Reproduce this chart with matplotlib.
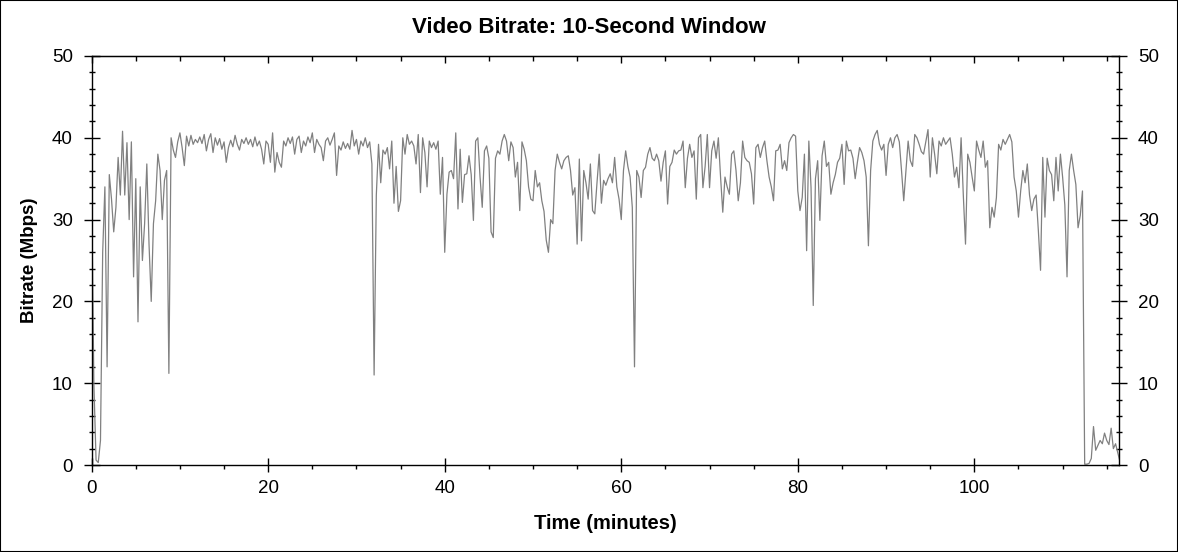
import matplotlib
matplotlib.use("Agg")
import matplotlib.pyplot as plt
from matplotlib.ticker import MultipleLocator, NullFormatter
from matplotlib.patches import Rectangle
import numpy as np

plt.rcParams['font.family'] = ['Liberation Sans', 'DejaVu Sans']

# one value every 15 seconds (0.25 min)
step_min = 0.25
bitrate_mbps = [
    # 0 - 5 min
    33, 10, 0.6, 0.3, 3, 26, 34, 12, 35.5, 32.5, 28.5, 31.5, 37.6, 33, 40.8, 33, 39.4, 30, 39.5, 23,
    # 5 - 10
    35, 17.5, 34, 25, 29.5, 36.8, 27, 20, 29.5, 32.3, 38, 36, 30, 34.8, 36, 11.2, 40, 38.5, 37.6, 39.5,
    # 10 - 15
    40.6, 38.8, 36.6, 40.2, 39.0, 40.3, 39.2, 39.8, 39.4, 40.1, 39.3, 40.4, 38.4, 39.8, 40.5, 38.2, 40.0, 39.1, 39.9, 38.6,
    # 15 - 20
    39.5, 37.0, 38.8, 39.7, 38.9, 40.3, 39.2, 38.5, 39.8, 39.3, 40.0, 39.2, 39.8, 38.9, 40.1, 39.0, 39.6, 38.6, 36.8, 39.6,
    # 20 - 25
    39.2, 37.0, 40.6, 35.8, 38.2, 37.0, 36.4, 39.6, 39.0, 40.0, 39.3, 40.1, 38.0, 39.8, 40.2, 38.2, 39.6, 39.0, 40.1, 39.4,
    # 25 - 30
    40.6, 38.2, 39.8, 39.2, 38.8, 37.2, 39.6, 40.0, 39.1, 39.8, 40.6, 35.4, 39.0, 38.5, 39.5, 38.7, 39.3, 38.6, 40.9, 39.0,
    # 30 - 35
    39.8, 38.0, 39.6, 39.0, 40.0, 38.8, 39.5, 36.8, 11.0, 33, 39.2, 34.5, 38.5, 38.0, 38.8, 36.2, 39.6, 32.0, 36.5, 31.0,
    # 35 - 40
    32.3, 40.0, 38.0, 40.4, 39.2, 39.6, 39.0, 36.8, 40.4, 33.3, 40.0, 38.2, 34.0, 39.6, 38.8, 39.4, 38.6, 39.6, 33.1, 37.6,
    # 40 - 45
    26, 33.1, 35.8, 36, 35, 40.6, 31.3, 38.6, 32.1, 35.5, 35.6, 37.8, 35.5, 29.9, 39.6, 40.0, 35.2, 31.5, 38.4, 39.0,
    # 45 - 50
    37.5, 28.5, 27.8, 37.5, 38.4, 38.0, 39.6, 40.4, 39.6, 37.2, 39.5, 38.8, 35.2, 37.0, 31.1, 39.5, 38.6, 37.2, 34.0, 32.5,
    # 50 - 55
    32.3, 36.0, 34.0, 34.5, 32.3, 31.0, 27.5, 26.0, 30, 29.5, 36, 38.0, 37.0, 36.2, 37.2, 37.6, 37.8, 36.0, 33.0, 33.9,
    # 55 - 60
    27, 37.4, 27.4, 36.0, 34.5, 32.5, 36.8, 31.1, 30.7, 34.5, 38.0, 32.0, 34.8, 34.2, 35.0, 35.6, 34.5, 37.6, 34.0, 32.5,
    # 60 - 65
    30, 36, 38.4, 36.5, 35.2, 31.5, 12, 36, 35.2, 32.7, 36, 36.4, 38, 38.8, 37.5, 37.2, 38.0, 37.2, 34.7, 37,
    # 65 - 70
    38.4, 31.9, 36.5, 37, 38.5, 38, 38.4, 38.5, 39.6, 33.9, 37.5, 39.2, 37.6, 38.4, 32.5, 40.0, 40.4, 33.9, 36.5, 40.4,
    # 70 - 75
    33.9, 38.4, 39.6, 37.5, 40.0, 35.2, 30.9, 35.2, 34, 33.1, 38, 38.4, 36, 32.3, 34.5, 39.6, 37.6, 37.2, 37, 35.6,
    # 75 - 80
    31.9, 38.8, 39.2, 37.6, 38.8, 39.6, 37.2, 35.2, 34, 32.3, 38.4, 38.5, 39.2, 36.2, 37.2, 36, 39.4, 40, 40.4, 40.2,
    # 80 - 85
    33.5, 31.1, 32.7, 38, 26.2, 39.6, 33.9, 19.5, 35, 37.2, 29.9, 37.8, 39.6, 36.5, 37.0, 33.1, 34.5, 35.5, 37, 37.5,
    # 85 - 90
    39.2, 34.3, 39.6, 38.4, 38.5, 37.5, 35, 37, 38.8, 38.2, 37.2, 35.2, 26.8, 36, 39.6, 40.4, 40.9, 39.2, 38.5, 39.2,
    # 90 - 95
    35.4, 39.2, 40, 38.8, 40.0, 40.4, 39.5, 36, 32.3, 36, 39.6, 37.2, 36.5, 40.4, 40.0, 39.2, 38.3, 38.0, 39.5, 41,
    # 95 - 100
    35.2, 40, 38, 35.6, 39.6, 39, 40, 39.2, 39.6, 40, 38, 35.2, 36.4, 33.9, 40, 33, 27, 38, 37, 35.2,
    # 100 - 105
    33.5, 39.6, 38.5, 37.6, 39.6, 36.4, 37.2, 29, 31.5, 30.3, 32.7, 39.2, 38.5, 39.8, 39.2, 39.8, 40.4, 39.5, 35.2, 33.5,
    # 105 - 110
    30.3, 33.5, 36, 34.5, 36.8, 33, 31.1, 32.5, 33, 28.7, 23.8, 37.6, 30.3, 37.5, 36, 35.5, 32.3, 37.6, 33.5, 38,
    # 110 - 115
    35.2, 31.8, 23, 36, 38, 36, 34.3, 29, 30.5, 33.5, 0.1, 0.1, 0.2, 0.8, 4.7, 1.8, 2.4, 3.0, 2.6, 3.9,
    # 115 - end
    3.0, 2.5, 4.5, 2.0, 2.6, 1.5, 0.4,
]
time_min = np.arange(len(bitrate_mbps)) * step_min

x_major = [0, 20, 40, 60, 80, 100]
y_major = [0, 10, 20, 30, 40, 50]

fig = plt.figure(figsize=(11.78, 5.52), dpi=100)
ax = fig.add_axes([0.0778, 0.1576, 0.8722, 0.741])

ax.plot(time_min, bitrate_mbps, color='#808080', lw=0.9)

ax.set_xlim(0, 116.4)
ax.set_ylim(0, 50)
ax.set_xticks(x_major)
ax.set_yticks(y_major)
ax.xaxis.set_minor_locator(MultipleLocator(5))
ax.yaxis.set_minor_locator(MultipleLocator(2))

ax.tick_params(axis='x', which='major', direction='inout', length=10, width=1,
               top=False, labelsize=13.5, pad=6)
ax.tick_params(axis='x', which='minor', direction='out', length=3, width=1, top=False)
ax.tick_params(axis='y', which='major', direction='inout', length=11, width=1,
               left=True, right=True, labelleft=True, labelright=True, labelsize=13.5, pad=8)
ax.tick_params(axis='y', which='minor', direction='inout', length=5, width=1,
               left=True, right=True)

# top axis has its own inward ticks
top = ax.secondary_xaxis('top')
top.set_xticks(x_major)
top.xaxis.set_minor_locator(MultipleLocator(5))
top.xaxis.set_major_formatter(NullFormatter())
top.tick_params(axis='x', which='major', direction='in', length=5, width=1)
top.tick_params(axis='x', which='minor', direction='in', length=3.5, width=1)

for s in ax.spines.values():
    s.set_linewidth(1)
    s.set_color('black')

ax.set_xlabel('Time (minutes)', fontsize=14.5, fontweight='bold', labelpad=12)
ax.set_ylabel('Bitrate (Mbps)', fontsize=13.5, fontweight='bold', labelpad=10)
fig.text(0.5, 0.951, 'Video Bitrate: 10-Second Window', ha='center', va='center',
         fontsize=16, fontweight='bold')

fig.add_artist(Rectangle((0, 0), 1, 1, transform=fig.transFigure, fill=False,
                         ec='black', lw=1.5))

fig.savefig('out.png', dpi=100)
